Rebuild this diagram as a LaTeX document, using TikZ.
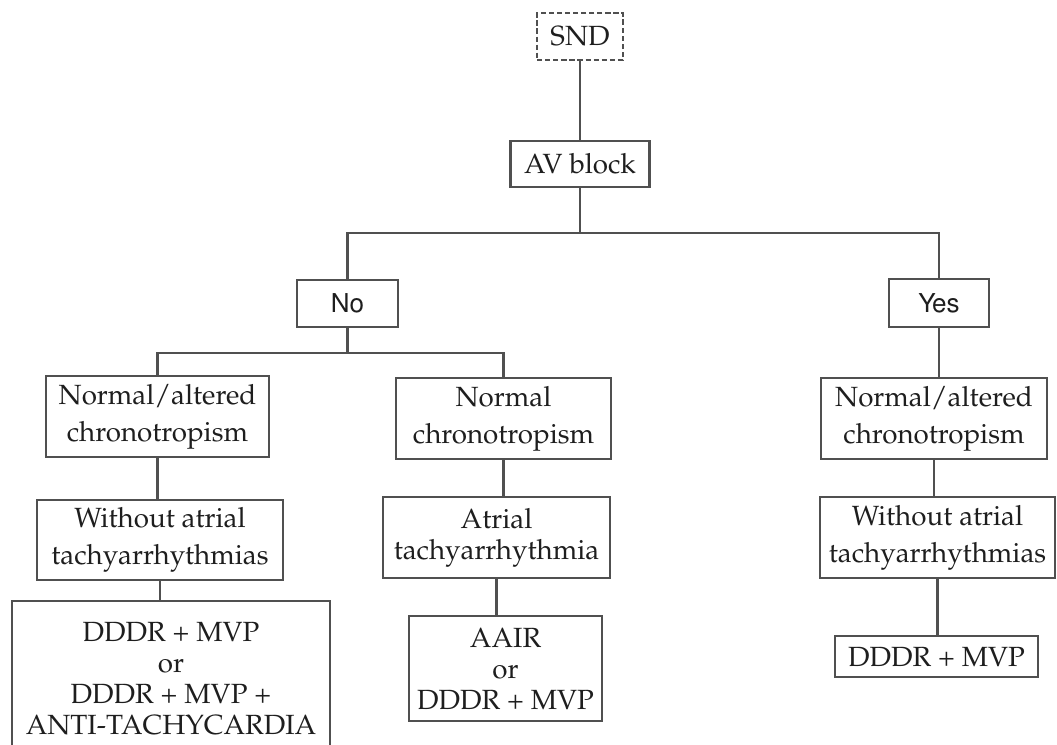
\documentclass[tikz,border=0pt]{standalone}
\usepackage[T1]{fontenc}
\usepackage{mathpazo}
\usetikzlibrary{positioning}
\definecolor{linegray}{RGB}{80,80,80}
\definecolor{textdark}{RGB}{30,30,30}

\tikzset{
  box/.style={draw=linegray, line width=0.6pt, text=textdark, align=center,
    inner sep=0pt, font=\fontsize{7.9}{10.6}\selectfont},
  tightbox/.style={box, font=\fontsize{7.9}{8.8}\selectfont},
  answer/.style={box, font=\fontfamily{phv}\fontsize{7.4}{9}\selectfont},
  link/.style={draw=linegray, line width=0.6pt}
}

\begin{document}
\begin{tikzpicture}
    \useasboundingbox (0,0) rectangle (10.57,-7.44);
    \clip (0,0) rectangle (10.57,-7.44);

    % Top
    \node[box, dash pattern=on 1.5pt off 0.8pt, minimum width=0.86cm, minimum height=0.47cm] (snd) at (5.80,-0.365) {SND};
    \node[box, minimum width=1.39cm, minimum height=0.46cm] (avblock) at (5.80,-1.64) {AV block};
    \coordinate (avsplit) at (5.80,-2.33);

    % Answers
    \node[answer, minimum width=1.01cm, minimum height=0.47cm] (no) at (3.475,-3.035) {No};
    \node[answer, minimum width=1.00cm, minimum height=0.48cm] (yes) at (9.39,-3.03) {Yes};
    \coordinate (nosplit) at (3.475,-3.53);

    % Chronotropism
    \node[box, minimum width=2.23cm, minimum height=0.81cm] (leftchrono) at (1.575,-4.165) {Normal/altered\\chronotropism};
    \node[box, minimum width=2.15cm, minimum height=0.81cm] (midchrono) at (5.035,-4.185) {Normal\\chronotropism};
    \node[box, minimum width=2.26cm, minimum height=0.81cm] (rightchrono) at (9.34,-4.185) {Normal/altered\\chronotropism};

    % Tachyarrhythmias
    \node[box, minimum width=2.46cm, minimum height=0.80cm] (leftnoat) at (1.60,-5.40) {Without atrial\\tachyarrhythmias};
    \node[tightbox, minimum width=2.27cm, minimum height=0.81cm] (midat) at (4.965,-5.375) {Atrial\\tachyarrhythmia};
    \node[box, minimum width=2.35cm, minimum height=0.81cm] (rightnoat) at (9.375,-5.375) {Without atrial\\tachyarrhythmias};

    % Pacing modes
    \node[tightbox, minimum width=3.18cm, minimum height=1.56cm] (leftmode) at (1.71,-6.79) {DDDR + MVP\\or\\DDDR + MVP +\\ANTI-TACHYCARDIA};
    \node[tightbox, minimum width=1.93cm, minimum height=1.05cm] (midmode) at (5.055,-6.685) {AAIR\\or\\DDDR + MVP};
    \node[box, minimum width=2.03cm, minimum height=0.41cm] (rightmode) at (9.365,-6.565) {DDDR + MVP};

    % Connectors
    \draw[link] (snd.south) -- (avblock.north);
    \draw[link] (avblock.south) -- (avsplit);
    \draw[link] (no.north) |- (avsplit) -| (yes.north);
    \draw[link] (no.south) -- (nosplit);
    \draw[link] (leftchrono.north) |- (nosplit) -| (midchrono.north);
    \foreach \a/\b in {yes/rightchrono, leftchrono/leftnoat, midchrono/midat,
      rightchrono/rightnoat, leftnoat/leftmode, midat/midmode, rightnoat/rightmode} {
      \draw[link] (\a.south) -- (\a.south |- \b.north);
    }
\end{tikzpicture}
\end{document}
